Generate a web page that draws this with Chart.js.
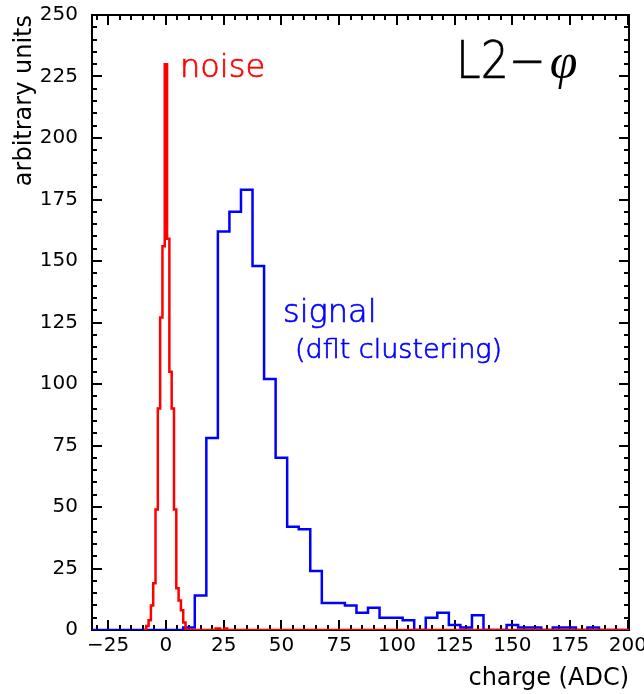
<!DOCTYPE html>
<html>
<head>
<meta charset="utf-8">
<script src="https://cdn.jsdelivr.net/npm/chart.js@4"></script>
<style>
  html, body { margin: 0; padding: 0; background: #fff; }
  #wrap { width: 644px; height: 694px; }
</style>
</head>
<body>
<div id="wrap"><canvas id="histChart"></canvas></div>
<script>
// noise histogram: 1 ADC bins (bin centres)
const noiseCharge = [-9, -8, -7, -6, -5, -4, -3, -2, -1, 0, 1, 2, 3, 4, 5, 6, 7, 8,
                     9, 10, 11, 12, 13, 14, 15, 16, 17, 18, 19, 20, 21, 22, 23, 24, 25, 26, 27];
const noiseCounts = [0, 1.6, 4, 10, 19, 49, 90, 127, 156, 230, 159, 105, 90, 49, 17, 12, 8, 3,
                     0, 0, 0, 0, 0, 0, 0, 0, 0, 0, 0, 0, 0, 0.6, 0.6, 0, 0, 0.6, 0];
const noiseBinWidth = 1;

// signal histogram: 5 ADC bins (bin centres)
const signalCharge = [-35, -30, -25, -20, -15, -10, -5, 0, 5, 10, 15, 20, 25, 30, 35, 40, 45, 50,
                      55, 60, 65, 70, 75, 80, 85, 90, 95, 100, 105, 110, 115, 120, 125, 130, 135,
                      140, 145, 150, 155, 160, 165, 170, 175, 180, 185, 190, 195, 200];
const signalCounts = [0, 0, 0, 0, 0, 0, 0, 0, 0, 1, 14, 78, 162, 170, 179, 148, 102, 70,
                      42, 41, 24, 11, 11, 10, 7, 9, 5, 5, 4, 0, 5, 7, 2, 1, 6,
                      0, 0, 2, 1, 1, 0, 1, 1, 0, 1, 0, 0, 0];
const signalBinWidth = 5;

const xTickValues = [-25, 0, 25, 50, 75, 100, 125, 150, 175, 200];
const yTickValues = [0, 25, 50, 75, 100, 125, 150, 175, 200, 225, 250];

const xMin = -32, xMax = 200.5;

// turn bin centres into step points (left edge of every bin + closing point)
function stepPoints(centres, counts, width, endX) {
  const pts = centres.map((c, i) => ({ x: c - width / 2, y: counts[i] }));
  pts.push({ x: endX, y: 0 });
  return pts;
}

// frame + inward ticks, ROOT style
const frameTicks = {
  id: 'frameTicks',
  beforeDatasetsDraw(chart) {
    const { ctx, chartArea: a, scales: { x, y } } = chart;
    ctx.save();
    ctx.strokeStyle = '#000';
    ctx.lineWidth = 2;
    ctx.strokeRect(a.left, a.top, a.right - a.left, a.bottom - a.top);
    ctx.beginPath();
    for (let v = Math.ceil(x.min / 5) * 5; v <= x.max; v += 5) {
      const px = Math.round(x.getPixelForValue(v));
      const len = v % 25 === 0 ? 10 : 5;
      ctx.moveTo(px, a.bottom); ctx.lineTo(px, a.bottom - len);
      ctx.moveTo(px, a.top); ctx.lineTo(px, a.top + len);
    }
    for (let v = 0; v <= y.max; v += 5) {
      const py = Math.round(y.getPixelForValue(v));
      const len = v % 25 === 0 ? 10 : 5;
      ctx.moveTo(a.left, py); ctx.lineTo(a.left + len, py);
      ctx.moveTo(a.right, py); ctx.lineTo(a.right - len, py);
    }
    ctx.stroke();
    ctx.restore();
  }
};

// text labels inside the plot (data coordinates)
const plotLabels = [
  { text: 'noise', x: 6.1, y: 225, color: '#ff0000', font: '300 32px "DejaVu Sans"' },
  { text: 'signal', x: 50.7, y: 125.2, color: '#0000ff', font: '300 32px "DejaVu Sans"' },
  { text: '(dflt clustering)', x: 55.9, y: 110.6, color: '#0000ff', font: '300 27px "DejaVu Sans"' },
  { text: 'L2\u2212', x: 125.6, y: 224.4, color: '#000', font: '300 52px "DejaVu Sans"' }
];

const textPlugin = {
  id: 'textPlugin',
  afterDatasetsDraw(chart) {
    const { ctx, scales: { x, y } } = chart;
    ctx.save();
    ctx.textBaseline = 'alphabetic';
    ctx.textAlign = 'left';
    ctx.lineWidth = 0.7;
    plotLabels.forEach(l => {
      ctx.font = l.font;
      ctx.fillStyle = l.color;
      ctx.strokeStyle = l.color;
      const px = x.getPixelForValue(l.x), py = y.getPixelForValue(l.y);
      if (l.text.startsWith('L2')) {
        ctx.save();
        ctx.translate(px, py);
        ctx.scale(0.85, 1);
        ctx.fillText(l.text, 0, 0);
        ctx.strokeText(l.text, 0, 0);
        const w = ctx.measureText(l.text).width * 0.85;
        ctx.restore();
        ctx.font = 'italic 50px "Liberation Serif"';
        ctx.fillText('\u03c6', px + w + 4, py);
      } else {
        ctx.fillText(l.text, px, py);
        ctx.strokeText(l.text, px, py);
      }
    });
    ctx.restore();
  }
};

document.addEventListener('DOMContentLoaded', function() {
  const ctx = document.getElementById('histChart').getContext('2d');
  new Chart(ctx, {
    type: 'line',
    data: {
      datasets: [
        {
          label: 'noise',
          data: stepPoints(noiseCharge, noiseCounts, noiseBinWidth, xMax),
          borderColor: '#ff0000',
          borderWidth: 2.5,
          stepped: true,
          pointRadius: 0,
          fill: false
        },
        {
          label: 'signal',
          data: stepPoints(signalCharge, signalCounts, signalBinWidth, xMax + 3),
          borderColor: '#0000ff',
          borderWidth: 2.5,
          stepped: true,
          pointRadius: 0,
          fill: false
        }
      ]
    },
    options: {
      responsive: true,
      maintainAspectRatio: false,
      animation: false,
      layout: { padding: { top: 15, right: 15, left: 0, bottom: 0 } },
      plugins: { legend: { display: false }, tooltip: { enabled: false } },
      scales: {
        x: {
          type: 'linear',
          min: xMin,
          max: xMax,
          grid: { display: false, drawTicks: false },
          border: { display: false },
          afterBuildTicks: s => { s.ticks = xTickValues.map(v => ({ value: v })); },
          afterFit: s => { s.height = 64; s.paddingLeft = 0; s.paddingRight = 0; },
          ticks: {
            color: '#000',
            padding: 4,
            maxRotation: 0,
            autoSkip: false,
            font: { family: '"DejaVu Sans"', size: 20 },
            callback: v => v < 0 ? '\u2212' + Math.abs(v) : String(v)
          },
          title: {
            display: true,
            text: 'charge (ADC)',
            align: 'end',
            color: '#000',
            padding: { top: 0, bottom: 1 },
            font: { family: '"DejaVu Sans"', size: 24 }
          }
        },
        y: {
          min: 0,
          max: 250,
          grid: { display: false, drawTicks: false },
          border: { display: false },
          afterBuildTicks: s => { s.ticks = yTickValues.map(v => ({ value: v })); },
          afterFit: s => { s.width = 92; s.paddingTop = 0; s.paddingBottom = 0; },
          ticks: {
            color: '#000',
            padding: 14,
            autoSkip: false,
            font: { family: '"DejaVu Sans"', size: 20 }
          },
          title: {
            display: true,
            text: 'arbitrary units',
            align: 'end',
            color: '#000',
            padding: { top: 10, bottom: 0 },
            font: { family: '"DejaVu Sans"', size: 24 }
          }
        }
      }
    },
    plugins: [frameTicks, textPlugin]
  });
});
</script>
</body>
</html>
